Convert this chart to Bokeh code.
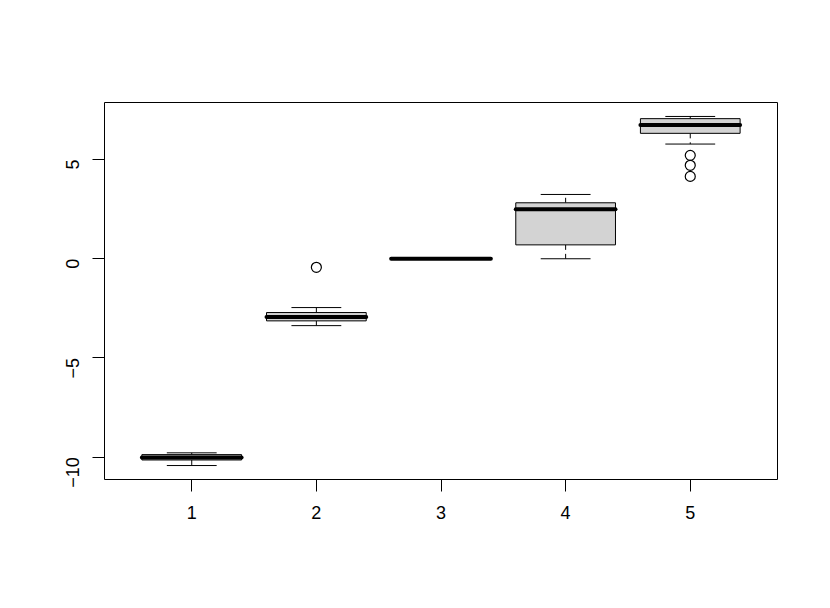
import math
from bokeh.plotting import figure
from bokeh.models import Range1d, FixedTicker, ColumnDataSource
from bokeh.embed import file_html
from bokeh.resources import INLINE

# ---- data ----
groups = [1, 2, 3, 4, 5]
tick_labels = ["1", "2", "3", "4", "5"]
lower_whisker = [-10.42, -3.37, 0.0, 0.0, 5.78]
q1 = [-10.14, -3.13, 0.0, 0.70, 6.32]
median = [-10.01, -2.93, 0.0, 2.50, 6.74]
q3 = [-9.87, -2.71, 0.0, 2.82, 7.06]
upper_whisker = [-9.78, -2.46, 0.0, 3.24, 7.17]
outlier_group = [2, 5, 5, 5]
outlier_value = [-0.43, 5.21, 4.71, 4.15]
y_ticks = [-10, -5, 0, 5]
y_tick_labels = ["\u221210", "\u22125", "0", "5"]

# ---- ranges like R (4% extension) ----
lo = min(lower_whisker + outlier_value)
hi = max(upper_whisker + outlier_value)
pad = 0.04 * (hi - lo)
xpad = 0.04 * (len(groups))

p = figure(width=814, height=592, output_backend="svg", toolbar_location=None,
           x_range=Range1d(0.5 - xpad, len(groups) + 0.5 + xpad),
           y_range=Range1d(lo - pad, hi + pad))
p.min_border_left = 104
p.min_border_right = 37
p.min_border_top = 102
p.min_border_bottom = 113
p.background_fill_color = "white"
p.border_fill_color = "white"
p.outline_line_color = "black"
p.outline_line_width = 1
p.xgrid.visible = False
p.ygrid.visible = False

src = ColumnDataSource(dict(
    g=groups,
    left=[g - 0.4 for g in groups],
    right=[g + 0.4 for g in groups],
    cl=[g - 0.2 for g in groups],
    cr=[g + 0.2 for g in groups],
    lw=lower_whisker, q1=q1, med=median, q3=q3, uw=upper_whisker,
))

# whiskers (dashed)
p.segment(x0="g", x1="g", y0="q3", y1="uw", source=src, line_color="black",
          line_width=1, line_dash="5 4")
p.segment(x0="g", x1="g", y0="q1", y1="lw", source=src, line_color="black",
          line_width=1, line_dash="5 4")
# staples
p.segment(x0="cl", x1="cr", y0="uw", y1="uw", source=src, line_color="black", line_width=1)
p.segment(x0="cl", x1="cr", y0="lw", y1="lw", source=src, line_color="black", line_width=1)
# boxes
p.quad(left="left", right="right", bottom="q1", top="q3", source=src,
       fill_color="#D3D3D3", line_color="black", line_width=1)
# medians
p.segment(x0="left", x1="right", y0="med", y1="med", source=src, line_color="black",
          line_width=4, line_cap="round")
# outliers
p.scatter(x=outlier_group, y=outlier_value, marker="circle", size=10,
          fill_color=None, line_color="black", line_width=1.2)

font = "Liberation Sans"
for ax in (p.xaxis[0], p.yaxis[0]):
    ax.axis_line_color = None
    ax.major_tick_out = 12
    ax.major_tick_in = 0
    ax.minor_tick_out = 0
    ax.minor_tick_in = 0
    ax.major_tick_line_color = "black"
    ax.major_label_text_font = font
    ax.major_label_text_font_size = "18px"
    ax.major_label_text_color = "black"

p.xaxis.ticker = FixedTicker(ticks=groups)
p.xaxis.major_label_overrides = {g: t for g, t in zip(groups, tick_labels)}
p.xaxis.major_label_standoff = 14

p.yaxis.ticker = FixedTicker(ticks=y_ticks)
p.yaxis.major_label_overrides = {v: t for v, t in zip(y_ticks, y_tick_labels)}
p.yaxis.major_label_orientation = math.pi / 2
p.yaxis.major_label_standoff = 20

open("out.html", "w").write(file_html(p, INLINE))
